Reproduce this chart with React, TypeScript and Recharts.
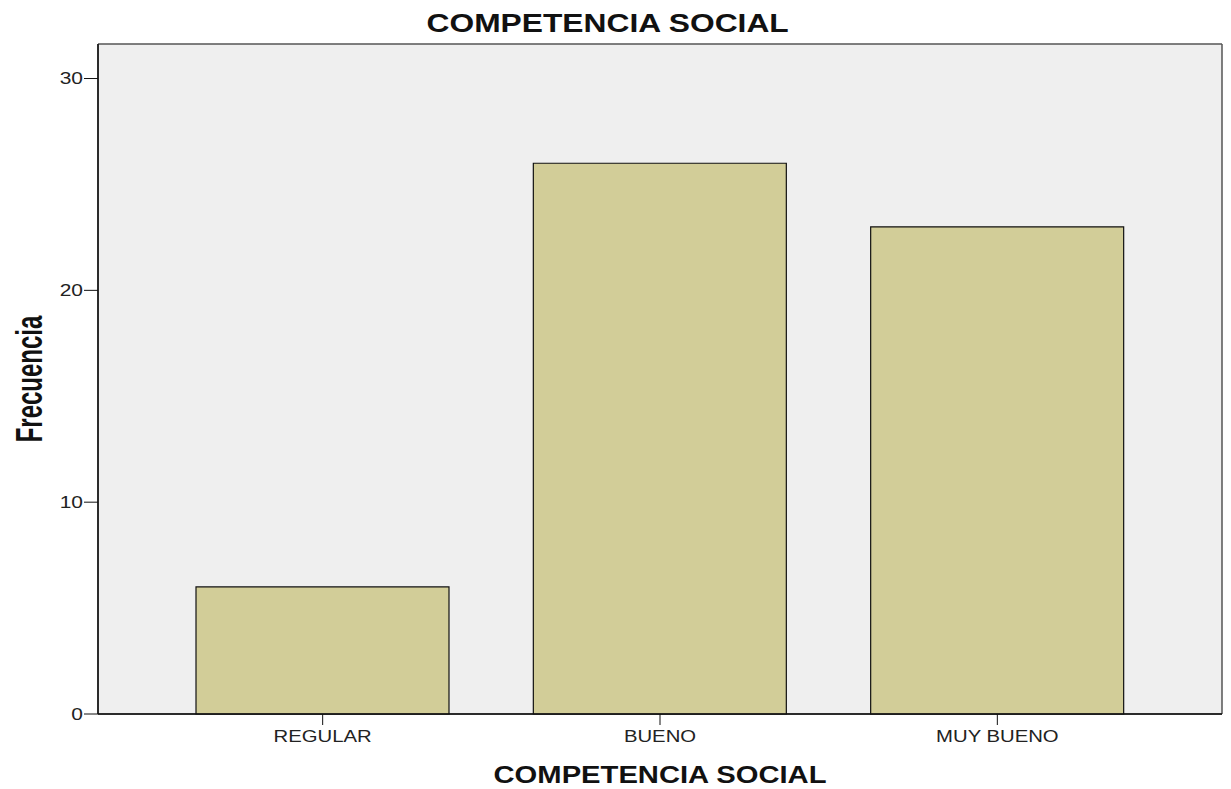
import { BarChart, Bar, XAxis, YAxis, CartesianGrid, Label } from "recharts";

const categories = ["REGULAR", "BUENO", "MUY BUENO"];
const frequencies = [6, 26, 23];
const yTicks = [0, 10, 20, 30];

const data = categories.map((name, i) => ({ name, value: frequencies[i] }));

const FONT = "'Liberation Sans', Arial, sans-serif";
const STRETCH = 1.27;

function YTick({ x, y, payload }: any) {
  return (
    <text
      transform={`translate(${x},${y}) scale(${STRETCH},1)`}
      textAnchor="end"
      dominantBaseline="central"
      fontFamily={FONT}
      fontSize={16.5}
      fill="#222"
    >
      {payload.value}
    </text>
  );
}

function XTick({ x, y, payload }: any) {
  return (
    <text
      transform={`translate(${x},${y + 12}) scale(${STRETCH},1)`}
      textAnchor="middle"
      fontFamily={FONT}
      fontSize={16}
      fill="#222"
    >
      {payload.value}
    </text>
  );
}

function XTitle({ viewBox }: any) {
  const cx = viewBox.x + viewBox.width / 2;
  return (
    <text
      transform={`translate(${cx},783) scale(${STRETCH},1)`}
      textAnchor="middle"
      fontFamily={FONT}
      fontWeight="bold"
      fontSize={23}
      fill="#111"
    >
      COMPETENCIA SOCIAL
    </text>
  );
}

function YTitle({ viewBox }: any) {
  const cy = viewBox.y + viewBox.height / 2;
  return (
    <text
      transform={`translate(42,${cy}) rotate(-90) scale(1,1.55)`}
      textAnchor="middle"
      fontFamily={FONT}
      fontWeight="bold"
      fontSize={24}
      fill="#111"
    >
      Frecuencia
    </text>
  );
}

export default function App() {
  return (
    <div style={{ position: "absolute", left: 0, top: 0, width: 1231, height: 789, background: "#fff" }}>
      <div
        style={{
          position: "absolute",
          left: 0,
          width: 1215,
          top: 11,
          textAlign: "center",
          fontFamily: FONT,
          fontWeight: "bold",
          fontSize: 25,
          lineHeight: "25px",
          color: "#111",
          transform: `scaleX(${STRETCH})`,
          transformOrigin: "607px 0",
        }}
      >
        COMPETENCIA SOCIAL
      </div>
      <BarChart width={1231} height={789} data={data} margin={{ top: 44, right: 9, left: 0, bottom: 0 }}>
        <CartesianGrid
          fill="#efefef"
          stroke="#555"
          strokeWidth={1.5}
          horizontalCoordinatesGenerator={({ offset }: any) => [offset.top, offset.top + offset.height]}
          verticalCoordinatesGenerator={({ offset }: any) => [offset.left, offset.left + offset.width]}
        />
        <XAxis
          dataKey="name"
          height={75}
          padding={{ left: 56, right: 56 }}
          tickSize={11}
          tickMargin={5}
          tick={<XTick />}
          tickLine={{ stroke: "#111" }}
          axisLine={{ stroke: "#111", strokeWidth: 1.5 }}
        >
          <Label content={<XTitle />} />
        </XAxis>
        <YAxis
          width={98}
          domain={[0, 31.63]}
          ticks={yTicks}
          tickSize={14}
          tickMargin={1}
          tick={<YTick />}
          tickLine={{ stroke: "#111" }}
          axisLine={{ stroke: "#111", strokeWidth: 1.5 }}
        >
          <Label content={<YTitle />} />
        </YAxis>
        <Bar dataKey="value" fill="#d2cd98" stroke="#111" strokeWidth={1.2} barSize={253} isAnimationActive={false} />
      </BarChart>
    </div>
  );
}
